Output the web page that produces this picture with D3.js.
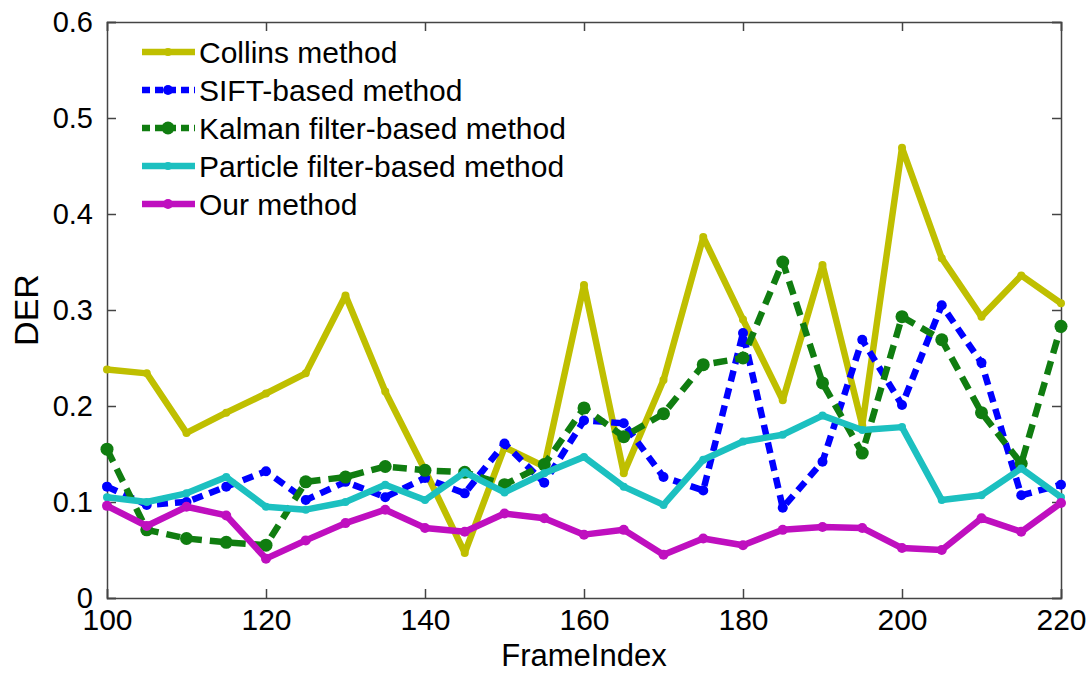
<!DOCTYPE html>
<html>
<head>
<meta charset="utf-8">
<script src="https://cdn.jsdelivr.net/npm/d3@7"></script>
<style>
  body { margin: 0; background: #fff; }
  text { font-family: "Liberation Sans", Arial, sans-serif; }
</style>
</head>
<body>
<div id="chart"></div>
<script>
// frame indices, one point every 5 frames
const frames = d3.range(100, 221, 5);

const collins = [0.238, 0.234, 0.172, 0.193, 0.213, 0.234, 0.315, 0.215, 0.133, 0.047,
  0.157, 0.137, 0.326, 0.130, 0.227, 0.376, 0.290, 0.206, 0.347, 0.180,
  0.469, 0.354, 0.293, 0.336, 0.307];
const sift = [0.116, 0.097, 0.100, 0.116, 0.132, 0.102, 0.121, 0.105, 0.125, 0.109,
  0.161, 0.120, 0.185, 0.182, 0.126, 0.112, 0.276, 0.094, 0.142, 0.269,
  0.201, 0.305, 0.245, 0.107, 0.118];
const kalman = [0.155, 0.071, 0.062, 0.058, 0.055, 0.121, 0.126, 0.137, 0.133, 0.131,
  0.118, 0.139, 0.198, 0.168, 0.192, 0.243, 0.250, 0.350, 0.224, 0.151,
  0.293, 0.269, 0.193, 0.140, 0.283];
const particle = [0.105, 0.100, 0.109, 0.126, 0.095, 0.092, 0.100, 0.118, 0.102, 0.131,
  0.110, 0.130, 0.147, 0.116, 0.097, 0.144, 0.163, 0.170, 0.190, 0.175,
  0.178, 0.102, 0.107, 0.135, 0.105];
const ours = [0.096, 0.075, 0.095, 0.086, 0.041, 0.060, 0.078, 0.092, 0.073, 0.069,
  0.088, 0.083, 0.066, 0.071, 0.045, 0.062, 0.055, 0.071, 0.074, 0.073,
  0.052, 0.050, 0.083, 0.069, 0.099];

const xTicks = [100, 120, 140, 160, 180, 200, 220];
const yTicks = [0, 0.1, 0.2, 0.3, 0.4, 0.5, 0.6];

const series = [
  {name: 'Collins method', values: collins, color: '#bfbf00', dash: null, r: 4},
  {name: 'SIFT-based method', values: sift, color: '#0000ff', dash: '11,7', r: 5},
  {name: 'Kalman filter-based method', values: kalman, color: '#107d10', dash: '14,8', r: 6.5},
  {name: 'Particle filter-based method', values: particle, color: '#1cc0c0', dash: null, r: 4},
  {name: 'Our method', values: ours, color: '#bf0fbf', dash: null, r: 5}
];

const W = 1092, H = 673;
const margin = {top: 22, right: 31, bottom: 75, left: 107};
const w = W - margin.left - margin.right,
      h = H - margin.top - margin.bottom;

const x = d3.scaleLinear().domain([100, 220]).range([0, w]);
const y = d3.scaleLinear().domain([0, 0.6]).range([h, 0]);

const svg = d3.select('#chart').append('svg')
    .attr('width', W)
    .attr('height', H);

const g = svg.append('g')
    .attr('transform', 'translate(' + margin.left + ',' + margin.top + ')');

// axes, ticks pointing inward like matlab
g.append('g')
    .attr('class', 'xaxis')
    .attr('transform', 'translate(0,' + h + ')')
    .call(d3.axisBottom(x).tickValues(xTicks).tickSize(-9).tickPadding(11).tickFormat(d3.format('d')));
g.append('g')
    .attr('class', 'xaxis')
    .call(d3.axisTop(x).tickValues(xTicks).tickSize(-9).tickFormat(''));
g.append('g')
    .attr('class', 'yaxis')
    .call(d3.axisLeft(y).tickValues(yTicks).tickSize(-9).tickPadding(14).tickFormat(d => d === 0 ? '0' : d3.format('.1f')(d)));
g.append('g')
    .attr('class', 'yaxis')
    .attr('transform', 'translate(' + w + ',0)')
    .call(d3.axisRight(y).tickValues(yTicks).tickSize(-9).tickFormat(''));

g.selectAll('.domain').attr('stroke', '#444').attr('stroke-width', 1.5);
g.selectAll('.tick line').attr('stroke', '#444').attr('stroke-width', 1.5);
g.selectAll('.tick text')
    .attr('fill', '#000')
    .style('font-size', '29px');
g.selectAll('.xaxis .tick text').attr('dy', '0.71em').style('font-size', '30px');

const line = d3.line()
    .x((d, i) => x(frames[i]))
    .y(d => y(d));

series.forEach(s => {
    g.append('path')
        .datum(s.values)
        .attr('fill', 'none')
        .attr('stroke', s.color)
        .attr('stroke-width', 6.5)
        .attr('stroke-linejoin', 'round')
        .attr('stroke-dasharray', s.dash)
        .attr('d', line);
    g.selectAll(null)
        .data(s.values)
        .enter()
        .append('circle')
        .attr('cx', (d, i) => x(frames[i]))
        .attr('cy', d => y(d))
        .attr('r', s.r)
        .attr('fill', s.color);
});

// legend
const legend = svg.append('g').attr('transform', 'translate(142,52)');
series.forEach((s, i) => {
    const row = legend.append('g').attr('transform', 'translate(0,' + (i * 38) + ')');
    row.append('line')
        .attr('x1', 0).attr('x2', 53)
        .attr('stroke', s.color)
        .attr('stroke-width', 6.5)
        .attr('stroke-dasharray', s.dash ? '8,5' : null);
    row.append('circle')
        .attr('cx', 26).attr('r', s.r)
        .attr('fill', s.color);
    row.append('text')
        .attr('x', 57)
        .attr('dy', '0.36em')
        .style('font-size', '30px')
        .text(s.name);
});

// axis titles
svg.append('text')
    .attr('x', margin.left + w / 2)
    .attr('y', 666)
    .attr('text-anchor', 'middle')
    .style('font-size', '31px')
    .text('FrameIndex');
svg.append('text')
    .attr('transform', 'translate(38,' + (margin.top + h / 2) + ') rotate(-90)')
    .attr('text-anchor', 'middle')
    .style('font-size', '34px')
    .text('DER');
</script>
</body>
</html>
